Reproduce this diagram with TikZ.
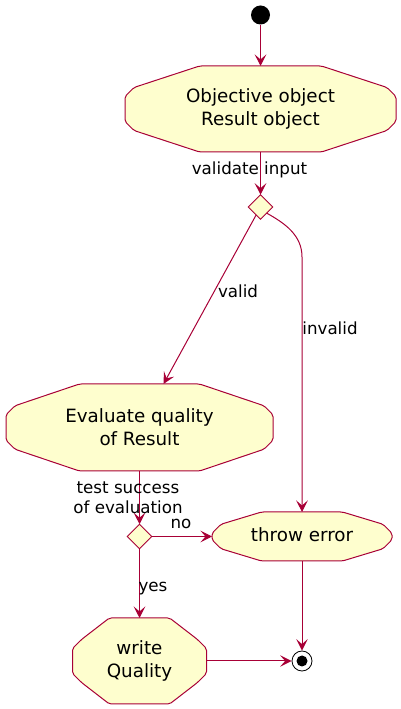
\documentclass[tikz,border=0pt]{standalone}
\usepackage{fontspec}
\setmainfont{DejaVu Sans}
\usepackage{tikz}
\usetikzlibrary{arrows.meta,shapes.geometric}
\definecolor{actfill}{HTML}{FEFECE}
\definecolor{actline}{HTML}{A80036}
\newcommand\actnode[5]{%
  \pgfmathsetmacro\hw{#3}\pgfmathsetmacro\hh{#4}%
  \pgfmathsetmacro\tw{0.45*#3}\pgfmathsetmacro\sd{0.5*#4}%
  \filldraw[actshape, shift={(#2)}] (-\tw,\hh) -- (\tw,\hh) -- (\hw-9,\hh-\sd) -- (\hw,\hh-\sd-9)
    -- (\hw,-\hh+\sd+9) -- (\hw-9,-\hh+\sd) -- (\tw,-\hh) -- (-\tw,-\hh) -- (-\hw+9,-\hh+\sd)
    -- (-\hw,-\hh+\sd+9) -- (-\hw,\hh-\sd-9) -- (-\hw+9,\hh-\sd) -- cycle;
  \node[acttext, minimum width=2*\hw, minimum height=2*\hh] (#1) at (#2) {#5};}

\begin{document}
\begin{tikzpicture}[x=1pt, y=1pt, actshape/.style={fill=actfill, draw=actline, line width=1pt, rounded corners=2pt}, acttext/.style={inner sep=0, outer sep=0, align=center, font=\fontsize{18.3}{23}\selectfont}, branch/.style={diamond, fill=actfill, draw=actline, line width=0.8pt, minimum size=24.5, inner sep=0, outer sep=0}, elabel/.style={inner sep=0, font=\fontsize{16.7}{20}\selectfont}, flow/.style={draw=actline, line width=1pt, -{Stealth[length=11.5pt,width=11.5pt,inset=5pt]}}, startmark/.style={circle, fill=black, minimum size=19, inner sep=0}, stopmark/.style={circle, draw=black, fill=white, line width=0.8pt, minimum size=20, inner sep=0, path picture={\fill[black] (path picture bounding box.center) circle (5.5pt);}}]
  \useasboundingbox (0,0) rectangle (400,709);
  \node[startmark] (start) at (260.5,694) {};
  \actnode{obj}{260.5,600}{135.5}{43}{Objective object\\Result object}
  \node[branch] (d1) at (260.5,502) {};
  \actnode{eval}{139.5,281.5}{133.5}{43.5}{Evaluate quality\\of Result}
  \node[branch] (d2) at (139.5,172.5) {};
  \actnode{throw}{302,172.5}{90}{24.5}{throw error\strut}
  \actnode{write}{139.5,48}{67}{43}{write\\Quality}
  \node[stopmark] (stop) at (302,48) {};
  \coordinate (bend) at (302,452);

  \draw[flow] (start) -- (obj);
  \draw[flow] (obj) -- (d1);
  \draw[flow] (d1) -- ([xshift=24pt]eval.north);
  \draw[flow] (d1.south east) .. controls +(18,-10) and +(0,22) .. (bend) -- (throw.north);
  \draw[flow] (eval) -- (d2);
  \draw[flow] (d2) -- (throw);
  \draw[flow] (d2) -- (write);
  \draw[flow] (write) -- (stop);
  \draw[flow] (throw) -- (stop);

  \node[elabel] (lvalidate) at (249.5,539) {validate input};
  \node[elabel] (lvalid) at (238,418) {valid};
  \node[elabel] (linvalid) at (330,381) {invalid};
  \node[elabel, align=center] (ltest) at (128,211) {test success\\of evaluation};
  \node[elabel] (lno) at (181,185) {no};
  \node[elabel] (lyes) at (153,120) {yes};
\end{tikzpicture}
\end{document}
